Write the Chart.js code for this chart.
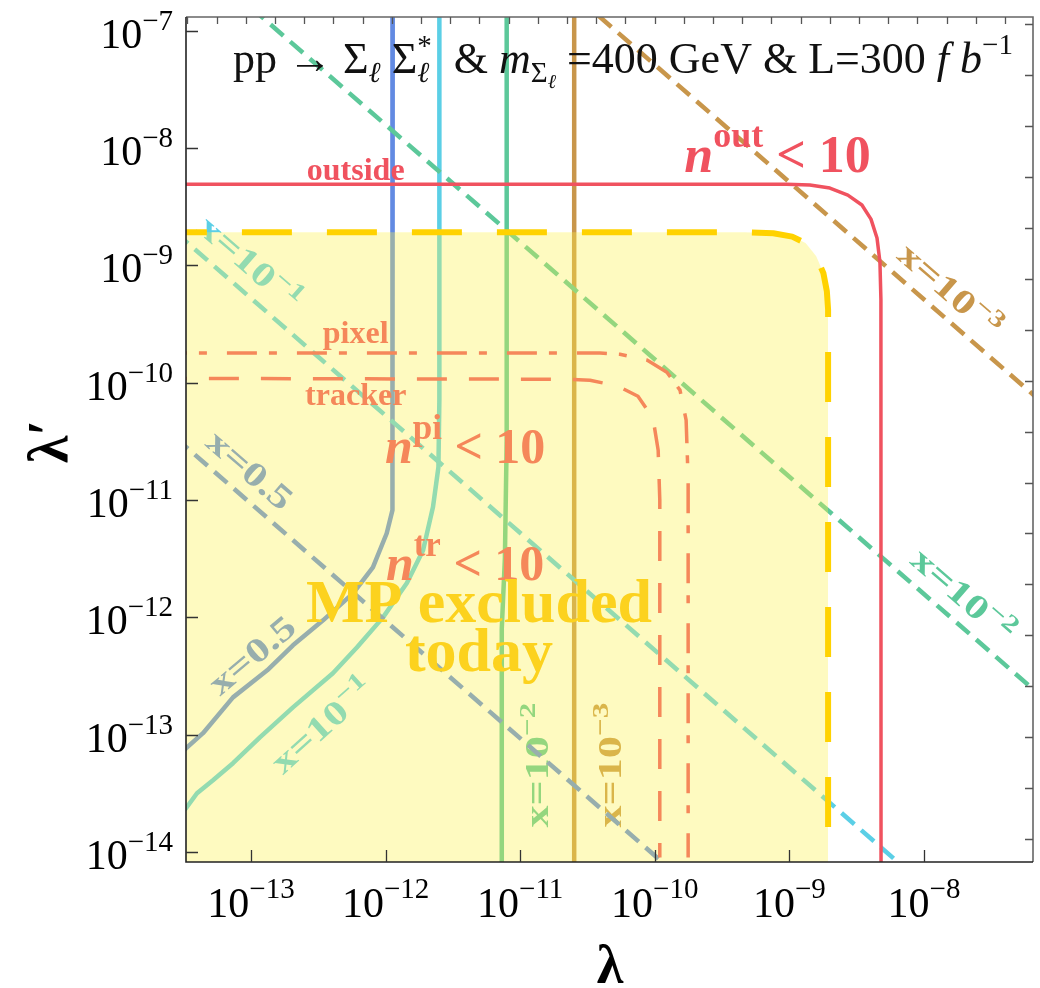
<!DOCTYPE html>
<html>
<head>
<meta charset="utf-8">
<title>MP reach</title>
<script src="https://cdn.jsdelivr.net/npm/chart.js@4.4.1/dist/chart.umd.min.js"></script>
<style>
  body { margin: 0; background: #fff; }
  canvas { display: block; }
</style>
</head>
<body>
<canvas id="chart" width="1040" height="988" style="width:1040px;height:988px"></canvas>
<script>

// ==========================
// Axis ranges and ticks
// ==========================

const lambdaRange  = [3.29e-14, 6.46e-8];
const lambdaPRange = [8.22e-15, 1.31e-7];

const lambdaTicks  = [1e-13, 1e-12, 1e-11, 1e-10, 1e-9, 1e-8];
const lambdaPTicks = [1e-14, 1e-13, 1e-12, 1e-11, 1e-10, 1e-9, 1e-8, 1e-7];

// unlabelled frame ticks on the top and right edges
const topFrameRange   = [-0.045, 28.96];
const rightFrameRange = [-0.45, 16.14];
const topFrameTicks   = [0, 1, 2, 3, 4, 5, 6, 7, 8, 9, 10, 11, 12, 13, 14, 15, 16, 17, 18, 19, 20, 21, 22, 23, 24, 25, 26, 27, 28];
const rightFrameTicks = [0, 1, 2, 3, 4, 5, 6, 7, 8, 9, 10, 11, 12, 13, 14, 15, 16];

// ==========================
// Curves, as [lambda, lambda']
// ==========================

// solid contours of constant x
const contourHalf = [
    [1.13e-12, 2e-7], [1.13e-12, 1.29e-11], [1.12e-12, 8.2e-12], [1.02e-12, 5.21e-12],
    [8.05e-13, 2.67e-12], [5.73e-13, 1.60e-12], [3.43e-13, 9.44e-13], [2.05e-13, 5.78e-13],
    [1.32e-13, 3.54e-13], [7.35e-14, 2.08e-13], [4.40e-14, 1.03e-13], [3.29e-14, 7.66e-14],
    [2.82e-14, 6.46e-14]
];

const contourTenth = [
    [2.51e-12, 2e-7], [2.51e-12, 7.11e-11], [2.47e-12, 1.91e-11], [2.25e-12, 8.71e-12],
    [1.90e-12, 3.74e-12], [1.44e-12, 1.96e-12], [9.57e-13, 1.00e-12], [6.14e-13, 5.57e-13],
    [4.06e-13, 3.34e-13], [2.05e-13, 1.71e-13], [1.17e-13, 9.53e-14], [7.35e-14, 5.71e-14],
    [5.22e-14, 4.09e-14], [3.97e-14, 3.17e-14], [3.29e-14, 2.36e-14], [2.8e-14, 2.0e-14]
];

const contourHundredth = [
    [7.94e-12, 2e-7], [7.94e-12, 3.2e-11], [7.7e-12, 3.2e-12], [7.3e-12, 8e-13], [7.3e-12, 5e-15]
];

const contourThousandth = [
    [2.52e-11, 2e-7], [2.52e-11, 5e-15]
];

// dashed lines of constant lambda * lambda'
const diagHalf        = [[1e-14, 9.33e-11], [1e-9, 9.33e-16]];
const diagTenth       = [[1e-14, 5.25e-9], [1e-8, 5.25e-15]];
const diagHundredth   = [[1e-13, 1.58e-7], [1e-7, 1.58e-13]];
const diagThousandth  = [[1e-11, 5.13e-7], [1e-7, 5.13e-11]];

// n < 10 boundaries
const outsideBound = [
    [2e-14, 4.91e-9], [9.55e-10, 4.91e-9], [1.42e-9, 4.84e-9], [2.00e-9, 4.56e-9],
    [2.72e-9, 3.97e-9], [3.46e-9, 3.27e-9], [4.04e-9, 2.48e-9], [4.48e-9, 1.71e-9],
    [4.71e-9, 1.07e-9], [4.79e-9, 5.06e-10], [4.8e-9, 5e-15]
];

const pixelBound = [
    [2e-14, 1.79e-10], [3.92e-11, 1.79e-10], [5.51e-11, 1.75e-10], [8.75e-11, 1.56e-10],
    [1.23e-10, 1.23e-10], [1.54e-10, 8.65e-11], [1.71e-10, 4.80e-11], [1.77e-10, 1.48e-11],
    [1.77e-10, 9e-15]
];

const trackerBound = [
    [2e-14, 1.09e-10], [2.26e-11, 1.07e-10], [3.30e-11, 1.05e-10], [5.33e-11, 9.35e-11],
    [7.50e-11, 7.67e-11], [9.70e-11, 4.99e-11], [1.06e-10, 2.66e-11], [1.09e-10, 9.98e-12],
    [1.09e-10, 9e-15]
];

// region already excluded
const excludedBound = [
    [2e-14, 1.92e-9], [4.6e-10, 1.92e-9], [7.6e-10, 1.88e-9], [1.05e-9, 1.76e-9],
    [1.32e-9, 1.55e-9], [1.58e-9, 1.2e-9], [1.79e-9, 8.6e-10], [1.9e-9, 6.0e-10],
    [1.94e-9, 4.2e-10], [1.94e-9, 5e-15]
];

// ==========================
// Colours and fonts
// ==========================

const BLUE   = "#628ae2";
const CYAN   = "#5bcfe6";
const GREEN  = "#5cc89a";
const BROWN  = "#c8964b";
const RED    = "#f0525f";
const ORANGE = "#f5875a";
const GOLD   = "#fcd21e";
const EDGE   = "#ffd200";
const SHADE  = "rgba(252, 241, 75, 0.35)";

const SERIF = '"Liberation Serif", "Times New Roman", serif';
const fontOf = (size, style) => `${style || ""} ${size}px ${SERIF}`;

// ==========================
// Rich text helpers
// ==========================

function layoutRuns(ctx, runs) {
    let end = 0, lastStart = 0;
    const placed = runs.map(r => {
        ctx.font = r.font;
        const w = ctx.measureText(r.t).width;
        const start = r.stack ? lastStart : end;
        if (!r.stack) lastStart = start;
        end = Math.max(end, start + w);
        return { r, x: start };
    });
    return { placed, width: end };
}

function drawRuns(ctx, runs, x, y, align) {
    const { placed, width } = layoutRuns(ctx, runs);
    const x0 = align === "center" ? x - width / 2 : align === "right" ? x - width : x;
    ctx.textAlign = "left";
    ctx.textBaseline = "alphabetic";
    placed.forEach(p => {
        ctx.font = p.r.font;
        ctx.fillText(p.r.t, x0 + p.x, y + (p.r.dy || 0));
    });
}

const run = (t, size, style, dy, stack) => ({ t, font: fontOf(size, style), dy, stack });

function xLabel(base, exp) {
    const runs = [run("x=" + base, 34, "bold")];
    if (exp) runs.push(run(exp, 24, "bold", -13));
    return runs;
}

function nLess(sup, size) {
    return [
        run("n", size, "italic bold"),
        run(sup, Math.round(size * 0.7), "bold", -Math.round(size * 0.48)),
        run(" < 10", size, "bold")
    ];
}

const titleRuns = [
    run("pp → Σ", 44),
    run("ℓ", 29, "italic", 9),
    run(" Σ", 44),
    run("ℓ", 29, "italic", 9),
    run("*", 29, "", -18, true),
    run("  & ", 44),
    run("m", 44, "italic"),
    run("Σ", 29, "", 9),
    run("ℓ", 20, "italic", 15),
    run(" =400 GeV & L=300 ", 44),
    run("f b", 44, "italic"),
    run("−1", 29, "", -19)
];

// labels along the curves (drawn under the shaded region)
const curveLabels = [
    { runs: xLabel("10", "−1"), at: [9.8e-14, 1.05e-9],  angle: 41,  color: CYAN },
    { runs: xLabel("0.5"),      at: [9.8e-14, 1.8e-11],  angle: 41,  color: BLUE },
    { runs: xLabel("0.5"),      at: [1.02e-13, 4.77e-13], angle: -40, color: BLUE },
    { runs: xLabel("10", "−1"), at: [3.37e-13, 1.2e-13], angle: -42, color: CYAN },
    { runs: xLabel("10", "−2"), at: [1.33e-11, 5.5e-14], angle: -90, color: GREEN },
    { runs: xLabel("10", "−3"), at: [4.65e-11, 5.5e-14], angle: -90, color: BROWN },
    { runs: xLabel("10", "−3"), at: [1.56e-8, 6.15e-10], angle: 41,  color: BROWN },
    { runs: xLabel("10", "−2"), at: [1.95e-8, 1.55e-12], angle: 41,  color: GREEN }
];

// region labels, anchored at their baseline centre
const regionTexts = [
    { runs: [run("outside", 32, "bold")], at: [6.0e-13, 5.33e-9],  color: RED },
    { runs: [run("pixel", 32, "bold")],   at: [6.0e-13, 2.18e-10], color: ORANGE },
    { runs: [run("tracker", 32, "bold")], at: [6.0e-13, 6.44e-11], color: ORANGE },
    { runs: nLess("out", 52),             at: [8.17e-10, 6.24e-9], color: RED },
    { runs: nLess("pi", 50),              at: [3.9e-12, 2.06e-11], color: ORANGE },
    { runs: nLess("tr", 50),              at: [3.9e-12, 2.07e-12], color: ORANGE },
    { runs: [run("MP excluded", 62, "bold")], at: [4.94e-12, 9.1e-13],  color: GOLD },
    { runs: [run("today", 62, "bold")],       at: [4.94e-12, 3.48e-13], color: GOLD }
];

const CURVE_STRETCH = 1.3;

// ==========================
// Drawing plugin
// ==========================

const decorations = {
    id: "decorations",

    beforeDatasetsDraw(chart) {
        const ctx = chart.ctx;
        const { x, y } = chart.scales;
        const area = chart.chartArea;
        ctx.save();
        ctx.beginPath();
        ctx.rect(area.left, area.top, area.right - area.left, area.bottom - area.top);
        ctx.clip();
        curveLabels.forEach(l => {
            ctx.save();
            ctx.translate(x.getPixelForValue(l.at[0]), y.getPixelForValue(l.at[1]));
            ctx.rotate(l.angle * Math.PI / 180);
            ctx.scale(CURVE_STRETCH, 1);
            ctx.fillStyle = l.color;
            drawRuns(ctx, l.runs, 0, 11, "center");
            ctx.restore();
        });
        ctx.restore();
    },

    afterDatasetsDraw(chart) {
        const ctx = chart.ctx;
        const { x, y, xt, yr } = chart.scales;
        const { left, right, top, bottom } = chart.chartArea;

        ctx.save();

        // region labels
        regionTexts.forEach(t => {
            ctx.fillStyle = t.color;
            drawRuns(ctx, t.runs, x.getPixelForValue(t.at[0]), y.getPixelForValue(t.at[1]), "center");
        });

        // process label
        ctx.fillStyle = "#111";
        drawRuns(ctx, titleRuns, left + 47, top + 56, "left");

        // frame
        ctx.lineWidth = 1.6;
        ctx.strokeStyle = "#666";
        ctx.beginPath();
        ctx.moveTo(left, top);
        ctx.lineTo(right, top);
        ctx.lineTo(right, bottom);
        ctx.stroke();
        ctx.strokeStyle = "#222";
        ctx.beginPath();
        ctx.moveTo(left, top);
        ctx.lineTo(left, bottom);
        ctx.lineTo(right, bottom);
        ctx.stroke();

        // ticks
        ctx.lineWidth = 1.3;
        ctx.strokeStyle = "#333";
        ctx.beginPath();
        lambdaTicks.forEach(v => {
            const px = Math.round(x.getPixelForValue(v)) + 0.5;
            ctx.moveTo(px, bottom);
            ctx.lineTo(px, bottom - 12);
        });
        lambdaPTicks.forEach(v => {
            const py = Math.round(y.getPixelForValue(v)) + 0.5;
            ctx.moveTo(left, py);
            ctx.lineTo(left + 12, py);
        });
        ctx.stroke();
        ctx.strokeStyle = "#555";
        ctx.beginPath();
        topFrameTicks.forEach(v => {
            const px = Math.round(xt.getPixelForValue(v)) + 0.5;
            ctx.moveTo(px, top);
            ctx.lineTo(px, top + 7);
        });
        rightFrameTicks.forEach(v => {
            const py = Math.round(yr.getPixelForValue(v)) + 0.5;
            ctx.moveTo(right, py);
            ctx.lineTo(right - 8, py);
        });
        ctx.stroke();

        // tick labels
        ctx.fillStyle = "#000";
        const expOf = v => "−" + Math.abs(Math.round(Math.log10(v)));
        lambdaTicks.forEach(v => {
            drawRuns(ctx, [run("10", 42), run(expOf(v), 29, "", -19)],
                x.getPixelForValue(v), bottom + 55, "center");
        });
        lambdaPTicks.forEach(v => {
            drawRuns(ctx, [run("10", 42), run(expOf(v), 29, "", -18)],
                left - 13, y.getPixelForValue(v) + 17, "right");
        });

        // axis titles
        ctx.font = fontOf(54, "bold");
        ctx.textAlign = "center";
        ctx.fillText("λ", (left + right) / 2 + 0.5, bottom + 121);

        ctx.translate(67, (top + bottom) / 2 + 2);
        ctx.rotate(-Math.PI / 2);
        ctx.font = fontOf(56, "bold");
        ctx.fillText("λ′", 0, 0);

        ctx.restore();
    }
};

// ==========================
// Chart
// ==========================

const toPoints = arr => arr.map(([lx, ly]) => ({ x: lx, y: ly }));

function curve(data, color, width, dash, order) {
    return {
        data: toPoints(data),
        showLine: true,
        borderColor: color,
        borderWidth: width,
        borderDash: dash || [],
        borderJoinStyle: "round",
        pointRadius: 0,
        fill: false,
        order
    };
}

new Chart(document.getElementById("chart"), {
    type: "scatter",
    data: {
        datasets: [
            curve(outsideBound, RED, 3.5, null, 1),
            curve(pixelBound, ORANGE, 3.5, [30, 12, 8, 20], 1),
            curve(trackerBound, ORANGE, 3.5, [30, 22], 1),
            {
                ...curve(excludedBound, EDGE, 6, [50, 35], 2),
                fill: "start",
                backgroundColor: SHADE
            },
            curve(diagHalf, BLUE, 4.5, [17, 9], 3),
            curve(diagTenth, CYAN, 4.5, [17, 9], 3),
            curve(diagHundredth, GREEN, 4.5, [17, 9], 3),
            curve(diagThousandth, BROWN, 4.5, [17, 9], 3),
            curve(contourHalf, BLUE, 4.5, null, 3),
            curve(contourTenth, CYAN, 4.5, null, 3),
            curve(contourHundredth, GREEN, 4.5, null, 3),
            curve(contourThousandth, BROWN, 4.5, null, 3)
        ]
    },
    options: {
        responsive: false,
        animation: false,
        devicePixelRatio: 1,
        layout: { padding: { left: 186, right: 7, top: 17, bottom: 126 } },
        plugins: {
            legend: { display: false },
            tooltip: { enabled: false }
        },
        scales: {
            x:  { type: "logarithmic", min: lambdaRange[0], max: lambdaRange[1], display: false },
            y:  { type: "logarithmic", min: lambdaPRange[0], max: lambdaPRange[1], display: false },
            xt: { type: "linear", position: "top", min: topFrameRange[0], max: topFrameRange[1], display: false },
            yr: { type: "linear", position: "right", min: rightFrameRange[0], max: rightFrameRange[1], display: false }
        }
    },
    plugins: [decorations]
});

</script>
</body>
</html>
